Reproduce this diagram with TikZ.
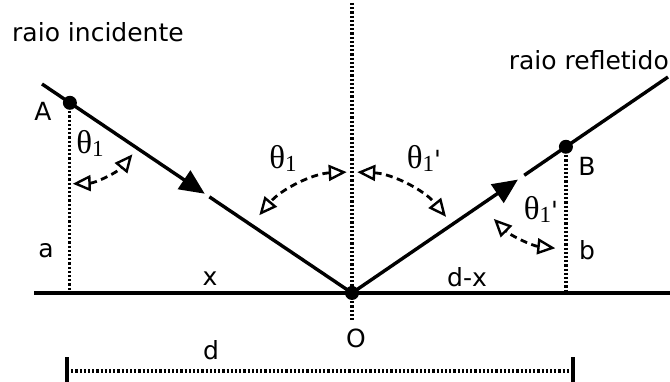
\documentclass[tikz,border=0pt]{standalone}
\usepackage{fontspec}
\setmainfont{DejaVu Sans}
\newfontfamily\thfont{Liberation Serif}
\usetikzlibrary{arrows.meta,calc}
\newcommand{\thone}{{\thfont\fontsize{33}{36}\selectfont θ\raisebox{-0.2ex}{\fontsize{23}{24}\selectfont 1}}}
\begin{document}
\begin{tikzpicture}[x=1pt,y=1pt,
  ray/.style={line width=3.4pt},
  dotline/.style={line width=3.2pt, dash pattern=on 2.2pt off 2pt},
  angarrow/.style={line width=2.8pt, dash pattern=on 7pt off 4.5pt,
    {Triangle[open,length=18pt,width=16pt,line width=2.4pt]}-{Triangle[open,length=18pt,width=16pt,line width=2.4pt]}},
  lbl/.style={font=\fontsize{25}{28}\selectfont, inner sep=0pt},
  dotpt/.style={circle, fill, inner sep=0pt, minimum size=14pt},
  solidtip/.style={-{Triangle[length=25pt,width=22pt]}}
]
\useasboundingbox (0,0) rectangle (670,382);

% key points
\coordinate (O) at (352,89);
\coordinate (S1) at (42,298);
\coordinate (E2) at (668,305);
\coordinate (A) at ($(S1)!0.09!(O)$);
\coordinate (B) at ($(O)!0.677!(E2)$);
\coordinate (P1) at ($(S1)!0.525!(O)$);
\coordinate (P1b) at ($(S1)!0.54!(O)$);
\coordinate (P2) at ($(O)!0.525!(E2)$);
\coordinate (P2b) at ($(O)!0.545!(E2)$);
\coordinate (SL) at (34,89);
\coordinate (SR) at (670,89);
\coordinate (VT) at (352,379);
\coordinate (VB) at (352,62);
\coordinate (DL) at (67,11);
\coordinate (DR) at (573,11);

% surface and normal
\draw[line width=3.4pt] (SL) -- (SR);
\draw[dotline] (VT) -- (VB);
\draw[dotline] (A) -- (A |- O);
\draw[dotline] (B) -- (B |- O);

% rays
\draw[ray, solidtip] (S1) -- (P1);
\draw[ray] (P1b) -- (O);
\draw[ray, solidtip] (O) -- (P2);
\draw[ray] (P2b) -- (E2);

% points
\node[dotpt] (Ap) at (A) {};
\node[dotpt] (Bp) at (B) {};
\node[dotpt] (Op) at (O) {};

% angle arcs
\draw[angarrow] ([shift={(-88:81)}]A) arc[start angle=-88, end angle=-39.5, radius=81];
\draw[angarrow] ([shift={(92.5:121)}]O) arc[start angle=92.5, end angle=140, radius=121];
\draw[angarrow] ([shift={(87.5:121)}]O) arc[start angle=87.5, end angle=39, radius=121];
\draw[angarrow] ([shift={(-96:102)}]B) arc[start angle=-96, end angle=-135, radius=102];

% dimension line
\draw[dotline] (DL) -- (DR);
\draw[line width=4.5pt] ($(DL)+(0,-11)$) -- ($(DL)+(0,14)$);
\draw[line width=4.5pt] ($(DR)+(0,-11)$) -- ($(DR)+(0,14)$);

% labels
\node[lbl, anchor=west] (tinc) at (12,350) {raio incidente};
\node[lbl, anchor=east] (tref) at (669,322) {raio refletido};
\node[lbl] (lA) at (43,271) {A};
\node[lbl] (lB) at (587,216) {B};
\node[lbl] (la) at (46,131) {a};
\node[lbl] (lb) at (587,132) {b};
\node[lbl] (lx) at (210,103) {x};
\node[lbl] (ldx) at (467,105) {d-x};
\node[lbl] (lO) at (356,44) {O};
\node[lbl] (ld) at (211,32) {d};
\node[lbl] (th1) at (90,239) {\thone};
\node[lbl] (th2) at (283,224) {\thone};
\node[lbl] (th3) at (424,224) {\thone\textquotesingle};
\node[lbl] (th4) at (541,173) {\thone\textquotesingle};
\end{tikzpicture}
\end{document}
